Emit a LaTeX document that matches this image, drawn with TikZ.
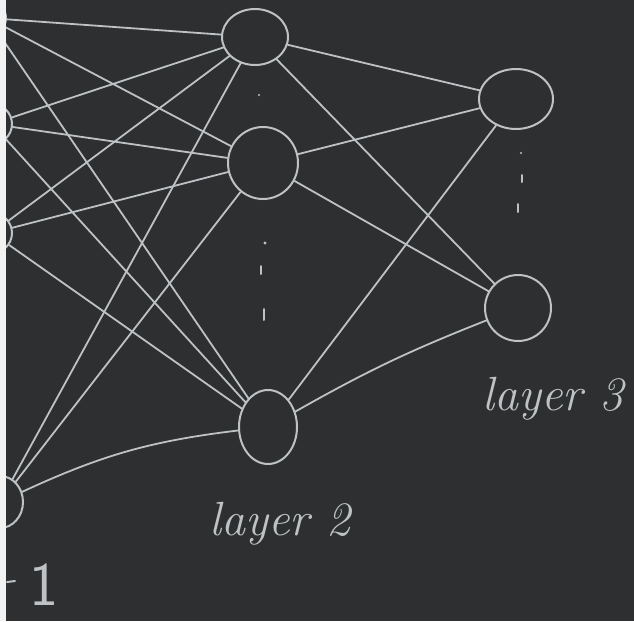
\documentclass[tikz,border=0pt]{standalone}
\usetikzlibrary{shapes.geometric}
\definecolor{board}{HTML}{2D2F30}
\definecolor{chalk}{HTML}{BEC2C4}
\definecolor{strip}{HTML}{F2F2F2}
\begin{document}
\begin{tikzpicture}[x=1pt,y=-1pt,
  neuron/.style={ellipse,draw=chalk,line width=2pt,inner sep=0pt},
  wire/.style={draw=chalk,line width=1.8pt,line cap=round},
  dotmark/.style={draw=chalk,line width=2pt,line cap=round},
  chalktext/.style={text=chalk,font=\fontsize{48}{52}\selectfont\itshape,inner sep=0pt,anchor=base}]
\fill[board] (0,0) rectangle (634,621);
\useasboundingbox (0,0) rectangle (634,621);
% layer 1 (mostly off the left edge)
\node[neuron,minimum width=36pt,minimum height=36pt] (T) at (-12,18) {};
\node[neuron,minimum width=40pt,minimum height=40pt] (L1a) at (-8,124) {};
\node[neuron,minimum width=40pt,minimum height=40pt] (L1b) at (-8,233) {};
\node[neuron,minimum width=46pt,minimum height=52pt] (L1c) at (0,502) {};
% layer 2
\node[neuron,minimum width=66pt,minimum height=56pt] (A) at (255,37) {};
\node[neuron,minimum width=70pt,minimum height=72pt] (B) at (263,163) {};
\node[neuron,minimum width=58pt,minimum height=74pt] (C) at (268,427) {};
% layer 3
\node[neuron,minimum width=74pt,minimum height=60pt] (D) at (516,99) {};
\node[neuron,minimum width=66pt,minimum height=66pt] (E) at (518,308) {};
% layer 1 -> layer 2
\draw[wire] (T) -- (A);
\draw[wire] (T) -- (B);
\draw[wire] (T) -- (C);
\draw[wire] (L1a) -- (A);
\draw[wire] (L1a) -- (B);
\draw[wire] (L1a) -- (C);
\draw[wire] (L1b) -- (A);
\draw[wire] (L1b) -- (B);
\draw[wire] (L1b) -- (C);
\draw[wire] (L1c) -- (A);
\draw[wire] (L1c) -- (B);
\draw[wire] (L1c) to[bend left=9] (C);
% layer 2 -> layer 3
\draw[wire] (A) -- (D);
\draw[wire] (A) -- (E);
\draw[wire] (B) -- (D);
\draw[wire] (B) -- (E);
\draw[wire] (C) -- (D);
\draw[wire] (C) to[bend left=4] (E);
% ellipsis dots
\coordinate (d1) at (259,95);
\coordinate (d2) at (265,243);
\coordinate (d3a) at (261,266);
\coordinate (d3b) at (261,274);
\coordinate (d4a) at (264,309);
\coordinate (d4b) at (264,320);
\coordinate (e1) at (521,153);
\coordinate (e2a) at (522,175);
\coordinate (e2b) at (522,182);
\coordinate (e3a) at (518,204);
\coordinate (e3b) at (518,212);
\fill[chalk] (d1) circle (1.2pt);
\fill[chalk] (d2) circle (1.6pt);
\draw[dotmark] (d3a) -- (d3b);
\draw[dotmark] (d4a) -- (d4b);
\fill[chalk] (e1) circle (1.2pt);
\draw[dotmark] (e2a) -- (e2b);
\draw[dotmark] (e3a) -- (e3b);
% labels
\node[chalktext] (lab2) at (280,535) {layer 2};
\node[chalktext] (lab3) at (553,410) {layer 3};
\node[text=chalk,font=\fontsize{62}{64}\selectfont\sffamily,inner sep=0pt,anchor=base] (lab1) at (44,605) {1};
\coordinate (dashA) at (7,582);
\coordinate (dashB) at (15,581);
\draw[dotmark] (dashA) -- (dashB);
% white strip at the left edge
\fill[strip] (0,0) rectangle (6,621);
\end{tikzpicture}
\end{document}
